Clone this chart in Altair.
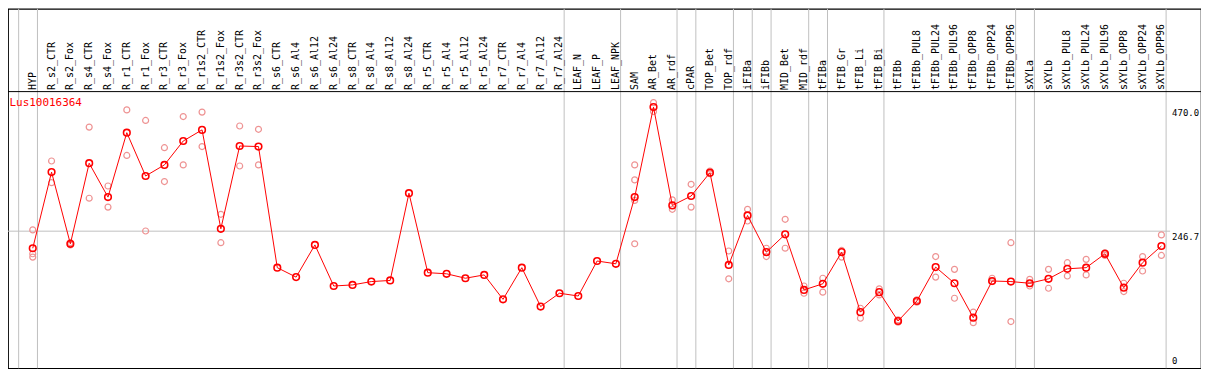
import altair as alt
import pandas as pd

# ---- data ----
columns = [
    "HYP", "R_s2_CTR", "R_s2_Fox", "R_s4_CTR", "R_s4_Fox", "R_r1_CTR", "R_r1_Fox",
    "R_r3_CTR", "R_r3_Fox", "R_r1s2_CTR", "R_r1s2_Fox", "R_r3s2_CTR", "R_r3s2_Fox",
    "R_s6_CTR", "R_s6_Al4", "R_s6_Al12", "R_s6_Al24", "R_s8_CTR", "R_s8_Al4",
    "R_s8_Al12", "R_s8_Al24", "R_r5_CTR", "R_r5_Al4", "R_r5_Al12", "R_r5_Al24",
    "R_r7_CTR", "R_r7_Al4", "R_r7_Al12", "R_r7_Al24", "LEAF_N", "LEAF_P", "LEAF_NPK",
    "SAM", "AR_Bet", "AR_rdf", "cPAR", "TOP_Bet", "TOP_rdf", "iFIBa", "iFIBb",
    "MID_Bet", "MID_rdf", "tFIBa", "tFIB_Gr", "tFIB_Li", "tFIB_Bi", "tFIBb",
    "tFIBb_PUL8", "tFIBb_PUL24", "tFIBb_PUL96", "tFIBb_OPP8", "tFIBb_OPP24",
    "tFIBb_OPP96", "sXYLa", "sXYLb", "sXYLb_PUL8", "sXYLb_PUL24", "sXYLb_PUL96",
    "sXYLb_OPP8", "sXYLb_OPP24", "sXYLb_OPP96",
]

means = [
    216, 353, 224, 369, 308, 424, 346, 366, 409, 429, 251, 400, 399,
    181, 164, 222, 148, 150, 156, 158, 315, 172, 170, 162, 168,
    124, 181, 111, 135, 130, 193, 188,
    308, 470, 293, 310, 352, 186, 275, 209, 241, 141, 152, 209, 101, 137, 85,
    121, 182, 153, 91, 157, 156, 153, 161, 179, 181, 206, 145, 190, 220,
]

N = None
rep1 = [
    249, 373, 222, 434, 328, 465, 446, 397, 453, 461, 277, 436, 430,
    N, N, N, N, N, N, N, N, N, N, N, N, N, N, N, N, N, N, N,
    366, 478, 303, 331, 355, 211, 286, 216, 268, 148, 162, 212, 108, 143, 87,
    123, 201, 178, 101, 162, 226, 160, 178, 190, 196, 208, 153, 201, 240,
]
rep2 = [
    206, 334, 226, 306, 290, 383, 247, 336, 366, 399, 226, 364, 366,
    N, N, N, N, N, N, N, N, N, N, N, N, N, N, N, N, N, N, N,
    339, 462, 286, 290, 350, 161, 265, 201, 216, 135, 137, 200, 90, 132, 83,
    119, 164, 126, 82, 156, 84, 148, 144, 166, 168, 203, 138, 175, 203,
]
rep3 = [200] + [N] * 31 + [302] + [N] * 28
rep4 = [N] * 32 + [224] + [N] * 28

# group separators: gridline drawn after these column indices
sep_after = [-1, 0, 28, 31, 34, 35, 37, 38, 39, 41, 42, 45, 52, 53, 60]

title_text = "Lus10016364"
axis_vals = [470.0, 246.7]
axis_labels = ["470.0", "246.7"]
zero_label = "0"

# ---- frames ----
df_mean = pd.DataFrame({"i": list(range(len(columns))), "col": columns, "v": means})
rows = []
for rep in (rep1, rep2, rep3, rep4):
    for i, val in enumerate(rep):
        if val is not None:
            rows.append({"i": i, "v": val})
df_rep = pd.DataFrame(rows)
df_sep = pd.DataFrame({"s": [s + 0.25 for s in sep_after]})
df_ax = pd.DataFrame({"v": axis_vals, "t": axis_labels})
df_zero = pd.DataFrame({"v": [0.0], "t": [zero_label]})
df_grid = pd.DataFrame({"v": [246.7]})

W, H = 1198, 361
FONT = "DejaVu Sans Mono"

xs = alt.Scale(domain=[-1.3158, 62.1053], nice=False, zero=False)
ys = alt.Scale(domain=[0, 647], nice=False, zero=True)

X = alt.X("i:Q", scale=xs, axis=None)
Y = alt.Y("v:Q", scale=ys, axis=None)

vgrid = alt.Chart(df_sep).mark_rule(color="#C0C0C0", strokeWidth=1).encode(
    x=alt.X("s:Q", scale=xs, axis=None),
    y=alt.value(0),
    y2=alt.value(H),
)

hgrid = alt.Chart(df_grid).mark_rule(color="#C0C0C0", strokeWidth=1).encode(
    y=Y,
    x=alt.value(0),
    x2=alt.value(1167),
)

header_line = alt.Chart(df_grid).mark_rule(color="black", strokeWidth=1).encode(
    x=alt.value(0),
    x2=alt.value(W),
    y=alt.value(83.2),
)

header = alt.Chart(df_mean).mark_text(
    angle=270, align="left", baseline="middle", font=FONT, fontSize=10, color="black"
).encode(x=X, y=alt.value(81.5), text="col:N")

reps = alt.Chart(df_rep).mark_point(
    shape="circle", filled=False, size=36, color="#EE9393", strokeWidth=1.2, opacity=1
).encode(x=X, y=Y)

line = alt.Chart(df_mean).mark_line(color="#FF0000", strokeWidth=1).encode(x=X, y=Y)

pts = alt.Chart(df_mean).mark_point(
    shape="circle", filled=False, size=44, color="#FF0000", strokeWidth=1.6, opacity=1
).encode(x=X, y=Y)

title = alt.Chart(pd.DataFrame({"t": [title_text]})).mark_text(
    align="left", baseline="alphabetic", font=FONT, fontSize=11, color="#FF0000"
).encode(x=alt.value(1.5), y=alt.value(97.5), text="t:N")

ax_lbl = alt.Chart(df_ax).mark_text(
    align="left", baseline="top", font=FONT, fontSize=9, color="black", dy=2
).encode(x=alt.value(1169), y=Y, text="t:N")

ax_zero = alt.Chart(df_zero).mark_text(
    align="left", baseline="bottom", font=FONT, fontSize=9, color="black", dy=-2
).encode(x=alt.value(1169), y=Y, text="t:N")

chart = alt.layer(
    vgrid, hgrid, header_line, header, reps, line, pts, title, ax_lbl, ax_zero
).properties(
    width=W, height=H,
    autosize=alt.AutoSizeParams(type="none"),
    padding=0,
).configure_view(stroke="black", strokeWidth=1.2)

chart.save("out.html", embed_options={"renderer": "svg", "actions": False})
